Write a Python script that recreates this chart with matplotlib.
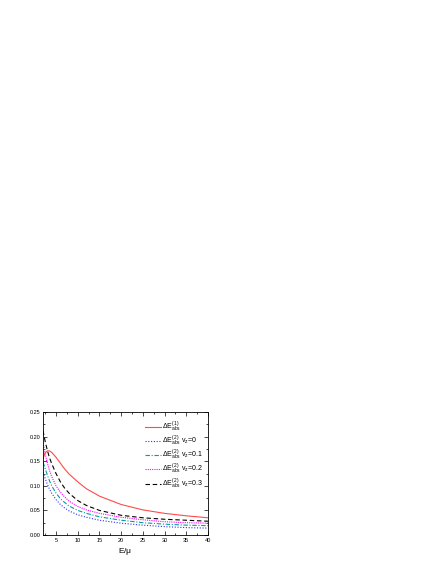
import matplotlib
matplotlib.use("Agg")
import matplotlib.pyplot as plt
from matplotlib.ticker import MultipleLocator

plt.rcParams['font.family'] = ['Liberation Sans', 'DejaVu Sans']
plt.rcParams['mathtext.fontset'] = 'custom'
plt.rcParams['mathtext.rm'] = 'Liberation Sans'
plt.rcParams['mathtext.it'] = 'Liberation Sans'

x = [2, 2.5, 3, 3.5, 4, 5, 6, 7, 8, 10, 12, 15, 20, 25, 30, 35, 40]
dE1 = [0.155, 0.167, 0.171, 0.171, 0.168, 0.158, 0.146, 0.134, 0.124, 0.108, 0.094, 0.079, 0.062, 0.051, 0.044, 0.039, 0.035]
dE2_v0 = [0.128, 0.115, 0.103, 0.093, 0.085, 0.072, 0.062, 0.055, 0.049, 0.041, 0.036, 0.030, 0.024, 0.020, 0.017, 0.015, 0.014]
dE2_v01 = [0.148, 0.135, 0.122, 0.110, 0.100, 0.085, 0.074, 0.066, 0.059, 0.050, 0.044, 0.037, 0.030, 0.025, 0.022, 0.020, 0.019]
dE2_v02 = [0.188, 0.165, 0.146, 0.131, 0.119, 0.100, 0.087, 0.077, 0.069, 0.058, 0.051, 0.044, 0.036, 0.031, 0.027, 0.025, 0.024]
dE2_v03 = [0.212, 0.190, 0.172, 0.157, 0.145, 0.125, 0.108, 0.095, 0.085, 0.070, 0.060, 0.050, 0.040, 0.035, 0.032, 0.030, 0.028]

labels = [r'$\Delta E^{(1)}_{abs}$',
          r'$\Delta E^{(2)}_{abs}$ v$_z$=0',
          r'$\Delta E^{(2)}_{abs}$ v$_z$=0.1',
          r'$\Delta E^{(2)}_{abs}$ v$_z$=0.2',
          r'$\Delta E^{(2)}_{abs}$ v$_z$=0.3']

fig = plt.figure(figsize=(4.36, 5.64), dpi=100)
ax = fig.add_axes([43/436, 1-535/564, (208-43)/436, (535-412)/564])

lw = 0.8
ax.plot(x, dE1, color='#ff4a4a', lw=lw, ls='-', label=labels[0])
ax.plot(x, dE2_v0, color='#3030ff', lw=lw, ls=(0, (1, 1.5)), label=labels[1])
ax.plot(x, dE2_v01, color='#00a0a0', lw=lw, ls=(0, (4, 1.5, 1, 1.5)), label=labels[2])
ax.plot(x, dE2_v02, color='#ff00ff', lw=lw, ls=(0, (1, 1)), label=labels[3])
ax.plot(x, dE2_v03, color='black', lw=lw, ls=(0, (4, 2.5)), label=labels[4])

ax.set_xlim(2, 40)
ax.set_ylim(0, 0.25)
ax.xaxis.set_major_locator(MultipleLocator(5))
ax.xaxis.set_minor_locator(MultipleLocator(2.5))
ax.yaxis.set_minor_locator(MultipleLocator(0.025))
ax.set_yticks([0, 0.05, 0.10, 0.15, 0.20, 0.25])
ax.set_yticklabels(['0.00', '0.05', '0.10', '0.15', '0.20', '0.25'])
ax.tick_params(which='both', direction='in', top=True, right=True, labelsize=4, pad=2, width=0.5)
ax.tick_params(which='major', length=3)
ax.tick_params(which='minor', length=1.5)
for s in ax.spines.values():
    s.set_linewidth(0.6)

ax.set_xlabel(r'E/$\mu$', fontsize=6, labelpad=2)

leg = ax.legend(loc='upper right', frameon=False, fontsize=5, handlelength=2.2,
                handletextpad=0.2, labelspacing=0.0, borderaxespad=0.3,
                bbox_to_anchor=(1.0, 0.98))

fig.savefig('out.png', dpi=100)
